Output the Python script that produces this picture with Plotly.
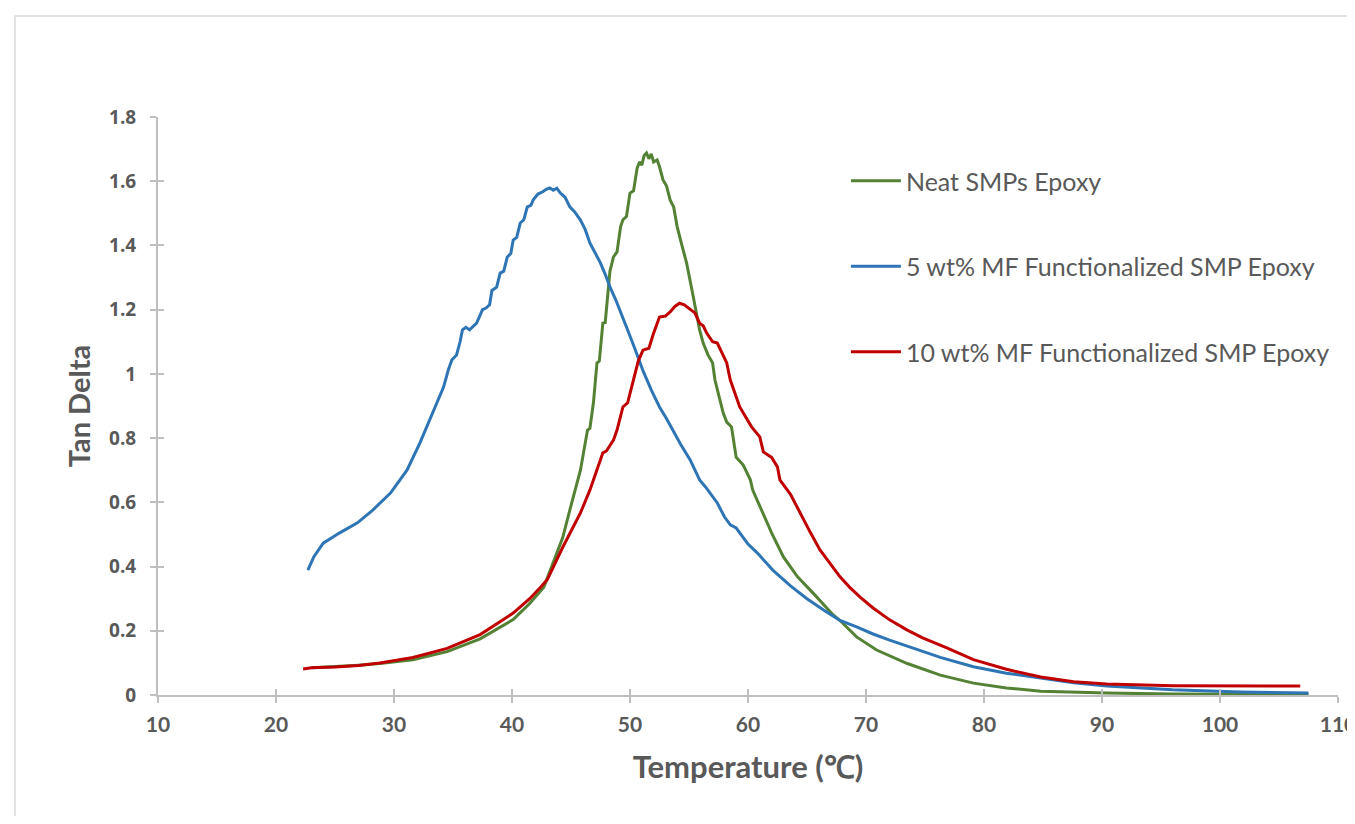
import plotly.graph_objects as go

# ---- Data ----
temp_5wt = [22.7, 23.2, 24.0, 25.4, 26.9, 28.2, 29.7, 31.1, 32.2, 33.3, 34.2, 34.6, 34.9, 35.3, 35.6,
            35.8, 36.1, 36.4, 37.0, 37.5, 37.8, 38.1, 38.3, 38.7, 39.0, 39.3, 39.6, 39.9, 40.1, 40.4,
            40.7, 41.0, 41.3, 41.6, 41.8, 42.2, 42.6, 42.9, 43.2, 43.5, 43.8, 44.1, 44.5, 44.9, 45.3,
            45.8, 46.2, 46.6, 47.0, 47.5, 47.9, 48.3, 48.8, 49.2, 49.7, 50.4, 51.1, 51.8, 52.5, 53.1,
            53.6, 54.3, 55.1, 55.9, 56.4, 57.0, 57.4, 58.0, 58.2, 58.5, 59.0, 59.3, 60.0, 60.8, 62.1,
            63.6, 65.0, 66.4, 67.8, 69.2, 70.6, 72.0, 73.5, 76.3, 79.1, 81.9, 84.8, 87.6, 90.4, 96.0,
            101.7, 107.5]
tan_5wt = [0.389, 0.430, 0.473, 0.505, 0.536, 0.576, 0.629, 0.700, 0.785, 0.878, 0.959, 1.012, 1.043, 1.059, 1.100,
           1.137, 1.145, 1.137, 1.158, 1.200, 1.205, 1.215, 1.260, 1.270, 1.314, 1.320, 1.364, 1.375, 1.417, 1.425,
           1.470, 1.480, 1.520, 1.525, 1.542, 1.560, 1.567, 1.575, 1.579, 1.572, 1.578, 1.563, 1.550, 1.520, 1.505,
           1.479, 1.450, 1.408, 1.380, 1.345, 1.310, 1.271, 1.230, 1.190, 1.146, 1.080, 1.010, 0.950, 0.897, 0.860,
           0.825, 0.780, 0.732, 0.670, 0.648, 0.620, 0.598, 0.555, 0.545, 0.530, 0.520, 0.505, 0.470, 0.442, 0.389,
           0.340, 0.300, 0.265, 0.232, 0.212, 0.190, 0.171, 0.152, 0.117, 0.088, 0.068, 0.053, 0.038, 0.028, 0.016,
           0.009, 0.006]

temp_neat = [23.0, 25.0, 27.0, 28.8, 31.6, 34.5, 37.3, 40.1, 41.5, 42.7, 43.5, 44.3, 45.0, 45.8, 46.4,
             46.6, 46.9, 47.2, 47.4, 47.7, 47.9, 48.3, 48.6, 48.9, 49.2, 49.4, 49.7, 50.0, 50.3, 50.6,
             50.8, 51.0, 51.2, 51.4, 51.6, 51.8, 52.0, 52.3, 52.5, 52.8, 53.1, 53.4, 53.7, 54.0, 54.4,
             54.8, 55.3, 55.6, 55.9, 56.2, 56.6, 57.0, 57.2, 57.9, 58.2, 58.6, 58.9, 59.0, 59.6, 60.2,
             60.4, 61.0, 61.6, 62.0, 63.0, 64.2, 65.5, 66.4, 67.2, 67.8, 69.2, 70.9, 73.5, 76.3, 79.1,
             81.9, 84.8, 90.4, 96.0, 107.5]
tan_neat = [0.085, 0.088, 0.093, 0.098, 0.110, 0.135, 0.175, 0.235, 0.285, 0.336, 0.410, 0.490, 0.590, 0.700, 0.825,
            0.830, 0.910, 1.034, 1.040, 1.158, 1.160, 1.320, 1.364, 1.380, 1.458, 1.480, 1.490, 1.563, 1.570, 1.640,
            1.660, 1.650, 1.680, 1.688, 1.670, 1.685, 1.660, 1.666, 1.645, 1.604, 1.585, 1.542, 1.520, 1.458, 1.400,
            1.345, 1.252, 1.190, 1.137, 1.096, 1.060, 1.034, 0.981, 0.878, 0.850, 0.835, 0.765, 0.740, 0.716, 0.670,
            0.638, 0.586, 0.536, 0.505, 0.430, 0.368, 0.318, 0.282, 0.250, 0.232, 0.181, 0.140, 0.098, 0.062, 0.037,
            0.022, 0.012, 0.006, 0.003, 0.001]

temp_10wt = [22.3, 23.0, 25.0, 27.0, 28.8, 31.6, 34.5, 37.3, 40.1, 41.5, 42.4, 43.0, 44.3, 45.8, 46.6,
             47.2, 47.7, 48.0, 48.6, 48.9, 49.4, 49.8, 50.3, 50.7, 51.1, 51.6, 52.0, 52.5, 53.0, 53.4,
             53.8, 54.2, 54.6, 55.1, 55.5, 55.9, 56.2, 56.5, 57.0, 57.4, 58.2, 58.5, 59.3, 60.3, 61.0,
             61.3, 62.0, 62.5, 62.7, 63.6, 64.4, 65.3, 66.1, 66.9, 67.8, 68.6, 69.5, 70.6, 72.0, 73.5,
             74.8, 76.9, 79.1, 81.9, 84.8, 87.6, 90.4, 96.0, 101.7, 106.8]
tan_10wt = [0.081, 0.085, 0.087, 0.092, 0.100, 0.117, 0.145, 0.188, 0.255, 0.300, 0.335, 0.360, 0.460, 0.567, 0.638,
            0.700, 0.754, 0.760, 0.794, 0.825, 0.897, 0.910, 0.981, 1.040, 1.074, 1.080, 1.127, 1.177, 1.180, 1.193,
            1.210, 1.220, 1.215, 1.200, 1.190, 1.158, 1.150, 1.127, 1.100, 1.096, 1.034, 0.981, 0.897, 0.835, 0.804,
            0.757, 0.740, 0.710, 0.670, 0.625, 0.567, 0.505, 0.452, 0.411, 0.368, 0.336, 0.305, 0.271, 0.234, 0.202,
            0.178, 0.146, 0.110, 0.080, 0.056, 0.041, 0.034, 0.029, 0.028, 0.028]

series_names = ["Neat SMPs Epoxy",
                "5 wt% MF Functionalized SMP Epoxy",
                "10 wt% MF Functionalized SMP Epoxy"]
series_colors = ["#548235", "#2E75B6", "#C00000"]

x_ticks = [10, 20, 30, 40, 50, 60, 70, 80, 90, 100, 110]
y_ticks = [0, 0.2, 0.4, 0.6, 0.8, 1.0, 1.2, 1.4, 1.6, 1.8]
y_tick_text = ["0", "0.2", "0.4", "0.6", "0.8", "1", "1.2", "1.4", "1.6", "1.8"]

fig = go.Figure()
for name, xs, ys, col in zip(series_names,
                             [temp_neat, temp_5wt, temp_10wt],
                             [tan_neat, tan_5wt, tan_10wt],
                             series_colors):
    fig.add_trace(go.Scatter(x=xs, y=ys, mode="lines", name=name, legendgroup=name,
                             line=dict(color=col, width=3)))

# dummy trace for an overlaid axis pair giving "cross" tick marks
fig.add_trace(go.Scatter(x=[None], y=[None], xaxis="x2", yaxis="y2", showlegend=False,
                         hoverinfo="skip"))

axis_gray = "#BFBFBF"
label_gray = "#595959"

fig.update_layout(
    width=1347, height=808,
    margin=dict(l=150, r=17, t=109, b=121, autoexpand=False),
    paper_bgcolor="white", plot_bgcolor="white",
    showlegend=True,
    legend=dict(x=0.583, y=0.929, xanchor="left", yanchor="top",
                font=dict(family="Lato", size=25, color=label_gray),
                tracegroupgap=50, itemwidth=50, bgcolor="rgba(0,0,0,0)"),
    xaxis=dict(range=[10, 110], tickvals=x_ticks, showgrid=False, zeroline=False,
               showline=True, linecolor=axis_gray, linewidth=2, automargin=False,
               ticks="outside", ticklen=6, tickcolor=axis_gray, tickwidth=2,
               tickfont=dict(family="Lato", size=21, color=label_gray, weight="bold"),
               ticklabelstandoff=4, ticklabeloverflow="allow",
               title=dict(text="Temperature (℃)", standoff=21,
                          font=dict(family="Lato", size=31, color=label_gray, weight="bold"))),
    yaxis=dict(range=[0, 1.8], tickvals=y_ticks, ticktext=y_tick_text, showgrid=False, zeroline=False,
               showline=True, linecolor=axis_gray, linewidth=2, automargin=False,
               ticks="outside", ticklen=6, tickcolor=axis_gray, tickwidth=2,
               tickfont=dict(family="Open Sans", size=19, color=label_gray, weight="bold"),
               ticklabelstandoff=10,
               title=dict(text="Tan Delta", standoff=10,
                          font=dict(family="Lato", size=29, color=label_gray, weight="bold"))),
    xaxis2=dict(range=[10, 110], tickvals=x_ticks, overlaying="x", anchor="y2", showgrid=False,
                zeroline=False, showline=False, ticks="inside", ticklen=6, tickcolor=axis_gray,
                tickwidth=2, showticklabels=False, side="bottom"),
    yaxis2=dict(range=[0, 1.8], tickvals=y_ticks, overlaying="y", anchor="x2", showgrid=False,
                zeroline=False, showline=False, ticks="inside", ticklen=6, tickcolor=axis_gray,
                tickwidth=2, showticklabels=False, side="left"),
    shapes=[dict(type="rect", xref="paper", yref="paper",
                 x0=(15 - 158) / 1180, x1=(1362 - 158) / 1180,
                 y0=(695 - 840) / 578, y1=(695 - 16) / 578,
                 line=dict(color="#D9D9D9", width=1.5), fillcolor="rgba(0,0,0,0)", layer="below")],
)

fig.write_html("out.html")
